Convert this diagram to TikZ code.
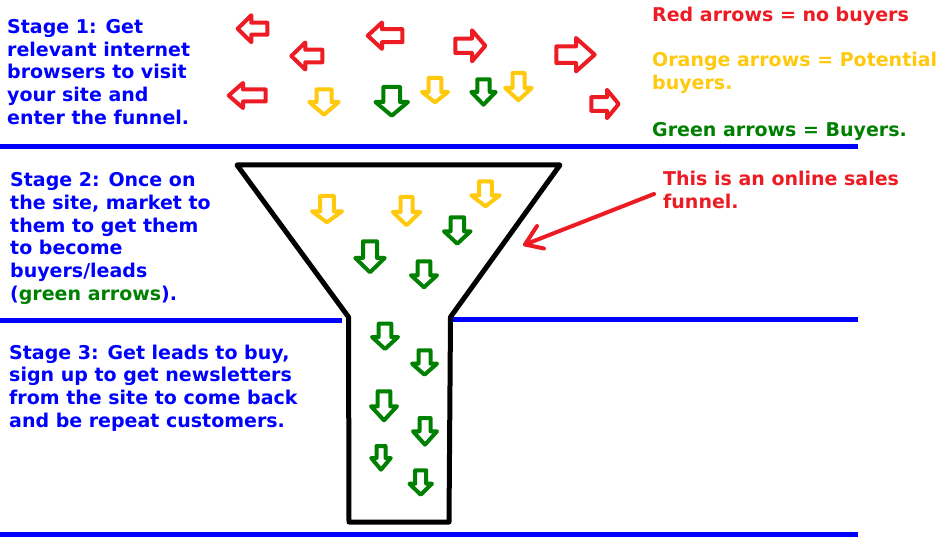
\documentclass[tikz,border=0pt]{standalone}
\usepackage{fontspec}
\setmainfont{DejaVu Sans}
\definecolor{pred}{HTML}{ED1C24}
\definecolor{pyel}{HTML}{FFC90E}
\definecolor{pgreen}{HTML}{008000}
\definecolor{pblue}{HTML}{0000FF}
% color, cx, top, tip, shaft half width, head half width, head base
\newcommand\DownArr[7]{\draw[blockarrow,draw=#1] ({#2-#5+2},{#3+2}) -- ({#2+#5-2},{#3+2}) -- ({#2+#5-2},{#7+2}) -- ({#2+#6-2},{#7+2}) -- (#2,{#4-2}) -- ({#2-#6+2},{#7+2}) -- ({#2-#5+2},{#7+2}) -- cycle;}
% color, tail x, tip x, cy, shaft half height, head half height, head base x
\newcommand\LeftArr[7]{\draw[blockarrow,draw=#1] ({#2-2},{#4-#5+2}) -- ({#2-2},{#4+#5-2}) -- ({#7-2},{#4+#5-2}) -- ({#7-2},{#4+#6-2}) -- ({#3+2},#4) -- ({#7-2},{#4-#6+2}) -- ({#7-2},{#4-#5+2}) -- cycle;}
\newcommand\RightArr[7]{\draw[blockarrow,draw=#1] ({#2+2},{#4-#5+2}) -- ({#2+2},{#4+#5-2}) -- ({#7+2},{#4+#5-2}) -- ({#7+2},{#4+#6-2}) -- ({#3-2},#4) -- ({#7+2},{#4-#6+2}) -- ({#7+2},{#4-#5+2}) -- cycle;}
\begin{document}
\begin{tikzpicture}[x=1pt,y=-1pt,
  blockarrow/.style={line width=4pt,line join=round},
  sepline/.style={draw=pblue,line width=4.5pt},
  funnelline/.style={draw=black,line width=5pt,line join=round},
  txt/.style={font=\fontsize{19}{22.75}\selectfont\bfseries,inner sep=0pt,align=left,anchor=base west}]
\useasboundingbox[fill=white] (0,0) rectangle (943,540);
% separator lines
\draw[sepline] (0,146.5) -- (858,146.5);
\draw[sepline] (0,320.5) -- (342,320.5);
\draw[sepline] (453,319.5) -- (858,319.5);
\draw[sepline] (0,534.5) -- (858,534.5);
% funnel
\draw[funnelline] (237,165) -- (560,165) -- (450.5,317) -- (449,522) -- (349,522) -- (348.5,317) -- cycle;
% texts (anchored at the baseline of their last line)
\node[txt,text=pblue] (s1) at (7,124.5) {Stage 1: Get\\relevant internet\\browsers to visit\\your site and\\enter the funnel.};
\node[txt,text=pblue] (s2) at (10,300.5) {Stage 2: Once on\\the site, market to\\them to get them\\to become\\buyers/leads\\(\textcolor{pgreen}{green arrows}).};
\node[txt,text=pblue] (s3) at (9,427.3) {Stage 3: Get leads to buy,\\sign up to get newsletters\\from the site to come back\\and be repeat customers.};
\node[txt,text=pred] (lr) at (652,21.7) {Red arrows = no buyers};
\node[txt,text=pyel] (lo) at (652,89.5) {Orange arrows = Potential\\buyers.};
\node[txt,text=pgreen] (lg) at (652,136.7) {Green arrows = Buyers.};
\node[txt,text=pred] (note) at (663,208.4) {This is an online sales\\funnel.};
% annotation arrow
\coordinate (annstart) at (654,194);
\coordinate (anntip) at (525,244.5);
\draw[draw=pred,line width=4pt,line cap=round] (annstart) -- (anntip);
\draw[draw=pred,line width=4pt,line cap=round,line join=round] (537,226) -- (anntip) -- (544,248.5);
% red arrows
\LeftArr{pred}{269.3}{235.7}{28.7}{8}{15.5}{253.3}
\LeftArr{pred}{324.3}{289.3}{56}{8.3}{15.5}{307.3}
\LeftArr{pred}{404.3}{365.7}{35.7}{8.5}{15.2}{384}
\RightArr{pred}{453.3}{487.3}{45.8}{9.2}{17.5}{470}
\RightArr{pred}{554.3}{596.7}{54.7}{10.3}{18.7}{574}
\LeftArr{pred}{267.7}{226.7}{95.5}{8}{14.5}{245}
\RightArr{pred}{589.3}{620.7}{104}{8.8}{16.2}{605}
% top down arrows
\DownArr{pyel}{324}{87.3}{116.7}{9.5}{16.7}{100}
\DownArr{pgreen}{391.7}{85}{117.7}{10.3}{18.3}{100}
\DownArr{pyel}{435}{76}{104.3}{8.3}{15}{90}
\DownArr{pgreen}{483.5}{77.3}{106.7}{8.2}{14.2}{90}
\DownArr{pyel}{518.5}{71}{102.3}{8}{15.3}{86}
% funnel arrows
\DownArr{pyel}{327}{194}{224.3}{8.8}{17}{209.3}
\DownArr{pyel}{406.5}{195}{227.3}{8}{15.7}{210}
\DownArr{pyel}{485.5}{179.3}{208.3}{8.3}{16.2}{193.3}
\DownArr{pgreen}{457.3}{215.3}{245.7}{8.7}{15.3}{229.3}
\DownArr{pgreen}{370}{239.3}{274.3}{9}{16.7}{256}
\DownArr{pgreen}{424}{259.3}{289.3}{8.3}{15}{273.3}
\DownArr{pgreen}{385}{321.7}{351}{8.3}{15}{335}
\DownArr{pgreen}{424.5}{348.3}{376.7}{8}{14.5}{361.7}
\DownArr{pgreen}{384}{389.3}{422.3}{8.3}{15}{404.3}
\DownArr{pgreen}{425}{416}{446.7}{7.5}{14}{429.3}
\DownArr{pgreen}{381}{444}{471.7}{6.5}{11.8}{456}
\DownArr{pgreen}{420.7}{468.3}{496.7}{7.5}{13.3}{481.7}
\end{tikzpicture}
\end{document}
